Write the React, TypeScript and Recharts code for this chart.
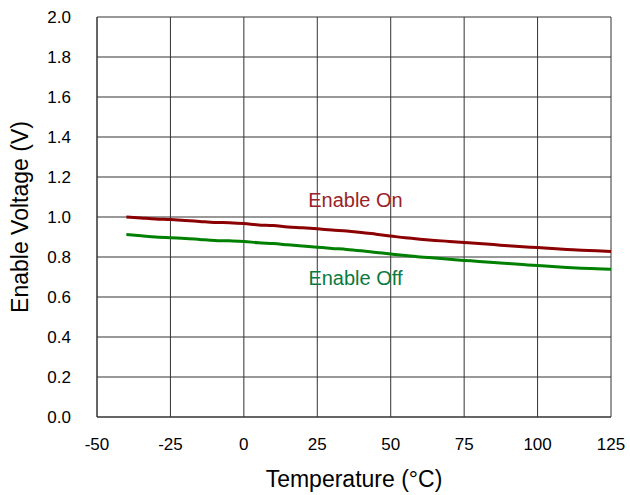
import { CartesianGrid, Label, Line, LineChart, ReferenceDot, XAxis, YAxis } from "recharts";

const temps = [-40, -35, -30, -25, -20, -15, -10, -5, 0, 5, 10, 15, 20, 25, 30, 35, 40, 45, 50, 55, 60, 65, 70, 75, 80, 85, 90, 95, 100, 105, 110, 115, 120, 125];
const enableOn = [1.0, 0.995, 0.99, 0.987, 0.983, 0.978, 0.973, 0.971, 0.967, 0.96, 0.957, 0.95, 0.946, 0.941, 0.935, 0.93, 0.923, 0.914, 0.905, 0.896, 0.889, 0.883, 0.878, 0.873, 0.867, 0.862, 0.856, 0.851, 0.847, 0.842, 0.838, 0.834, 0.831, 0.827];
const enableOff = [0.912, 0.906, 0.9, 0.896, 0.893, 0.888, 0.883, 0.881, 0.878, 0.871, 0.867, 0.861, 0.855, 0.849, 0.843, 0.838, 0.831, 0.823, 0.815, 0.807, 0.8, 0.795, 0.789, 0.783, 0.778, 0.772, 0.767, 0.762, 0.757, 0.753, 0.748, 0.744, 0.741, 0.738];
const xTicks = [-50, -25, 0, 25, 50, 75, 100, 125];
const yTicks = [0, 0.2, 0.4, 0.6, 0.8, 1.0, 1.2, 1.4, 1.6, 1.8, 2.0];

const data = temps.map((t, i) => ({ t, on: enableOn[i], off: enableOff[i] }));

const font = "'Liberation Sans', Arial, sans-serif";

export default function App() {
  return (
    <div style={{ position: "absolute", left: 0, top: 0, width: 630, height: 495, background: "#fff", fontFamily: font }}>
      <LineChart width={630} height={495} data={data} margin={{ top: 17, right: 19, bottom: 0, left: 0 }}>
        <CartesianGrid stroke="#333" strokeWidth={1} />
        <XAxis
          dataKey="t"
          type="number"
          domain={[-50, 125]}
          ticks={xTicks}
          height={78}
          tickLine={false}
          axisLine={{ stroke: "#333" }}
          tick={{ fill: "#000", fontSize: 17, fontFamily: font }}
          tickMargin={15}
        >
          <Label value="Temperature (°C)" position="insideBottom" offset={8} style={{ fill: "#000", fontSize: 23, fontFamily: font }} />
        </XAxis>
        <YAxis
          type="number"
          domain={[0, 2]}
          ticks={yTicks}
          width={97}
          tickLine={false}
          axisLine={{ stroke: "#333" }}
          tick={{ fill: "#000", fontSize: 17, fontFamily: font }}
          tickFormatter={(v: number) => v.toFixed(1)}
          tickMargin={20}
        >
          <Label value="Enable Voltage (V)" angle={-90} position="insideLeft" offset={20} style={{ fill: "#000", fontSize: 23, fontFamily: font, textAnchor: "middle" }} />
        </YAxis>
        <Line type="monotone" dataKey="on" stroke="#8B0000" strokeWidth={3} dot={false} isAnimationActive={false} />
        <Line type="monotone" dataKey="off" stroke="#008000" strokeWidth={3} dot={false} isAnimationActive={false} />
        <ReferenceDot x={38} y={1.085} r={0} fill="none" stroke="none">
          <Label value="Enable On" position="center" style={{ fill: "#9B2226", fontSize: 20, fontFamily: font, textAnchor: "middle" }} />
        </ReferenceDot>
        <ReferenceDot x={38} y={0.695} r={0} fill="none" stroke="none">
          <Label value="Enable Off" position="center" style={{ fill: "#0B7A3E", fontSize: 20, fontFamily: font, textAnchor: "middle" }} />
        </ReferenceDot>
      </LineChart>
    </div>
  );
}
